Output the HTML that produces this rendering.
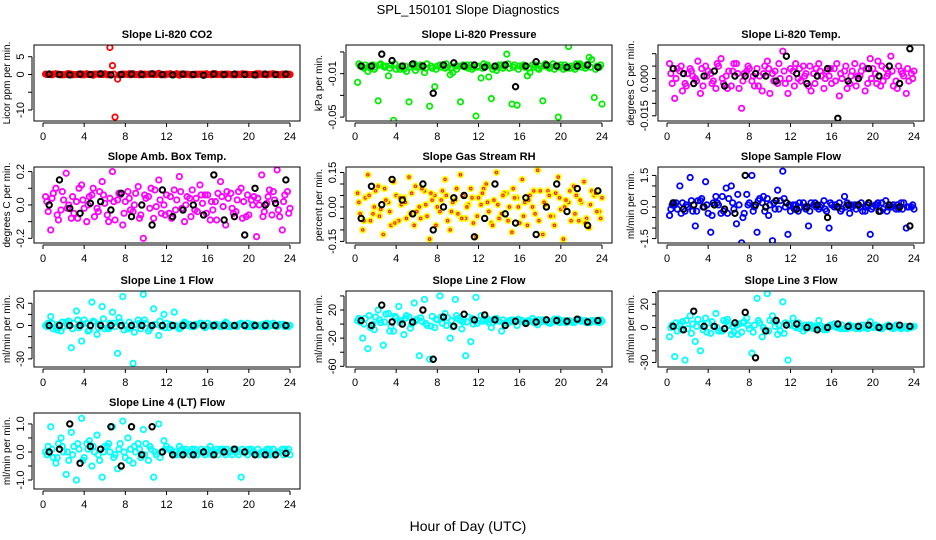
<!DOCTYPE html>
<html><head><meta charset="utf-8"><style>
html,body{margin:0;padding:0;background:#fff;}
svg{display:block;font-family:"Liberation Sans",sans-serif;}
</style></head><body>
<svg id="chart" width="936" height="540" viewBox="0 0 936 540">
<text x="468" y="14" text-anchor="middle" font-size="13">SPL_150101  Slope Diagnostics</text>
<text x="468" y="531" text-anchor="middle" font-size="14">Hour of Day (UTC)</text>
</svg>
<script>
// ---- data ----
const xTicks = [0,4,8,12,16,20,24];
const co2A = [0.1,0,0.2,-0.1,0,0.1,0,-0.1,0.2,0,0.1,0,-0.1,2.5,-1.3,0.1,0,0.2,0,-0.1,0.1,0,0.3,0,0.1,0,-0.2,0.1,0,0,0.1,-0.1,0,0.2,0,0.1,0,-0.1,0,0.1,0,0.2,0,-0.1,0.1,0,0.1,0];
const co2B = [0,0.1,0,-0.1,0.2,0,0.1,-0.1,0,0.1,0,0.2,7.6,-12,0,0.1,-0.1,0,0.2,0,0.1,0,-0.1,0.1,0,0.2,0,0.1,-0.1,0,0.1,0,0.2,0,-0.1,0.1,0,0,0.1,0,-0.1,0.2,0,0.1,0,-0.1,0.1,0];
const co2C = [0,-0.1,0.1,0,0.2,-0.1,0,0.1,0,-0.2,0.1,0,0,0.1,-0.1,0,0.2,0,-0.1,0.1,0,0.1,0,-0.1,0.2,0,0.1,0,-0.1,0.1,0,0.2,-0.1,0,0.1,0,-0.1,0.1,0.2,0,0,-0.1,0.1,0,0.2,0,-0.1,0.1];
const co2K = [0.1,0,-0.1,0.1,0,0.2,-0.1,0,0.1,0,0.2,0,-0.1,0.1,0,-0.2,0.1,0,0.1,0,-0.1,0.1,0,0.1];
const presA = [-0.018,-0.004,-0.008,-0.002,-0.035,-0.003,-0.012,-0.053,-0.004,-0.006,-0.036,-0.001,-0.004,-0.009,-0.04,-0.022,-0.002,-0.005,-0.011,-0.003,-0.036,-0.004,-0.002,-0.049,-0.014,-0.003,-0.033,-0.007,-0.002,0.008,-0.038,-0.039,-0.003,-0.012,-0.002,-0.005,-0.035,-0.003,-0.001,-0.05,-0.006,0.015,-0.004,-0.002,-0.003,0.005,-0.032,-0.004];
const presB = [-0.003,-0.002,-0.005,-0.004,-0.001,-0.003,-0.002,-0.006,-0.003,-0.008,-0.002,-0.004,-0.003,-0.001,-0.005,-0.003,-0.002,-0.004,-0.009,-0.003,-0.002,-0.005,-0.004,-0.003,-0.001,-0.013,-0.004,-0.002,-0.003,-0.005,-0.002,-0.003,-0.004,-0.009,-0.002,-0.003,-0.001,-0.004,-0.003,-0.002,-0.005,-0.003,-0.001,-0.004,-0.002,0.003,-0.003,-0.038];
const presC = [-0.001,-0.005,-0.003,-0.006,-0.002,-0.004,-0.005,-0.001,-0.006,-0.003,-0.004,-0.007,-0.002,-0.005,-0.003,-0.006,-0.004,-0.001,-0.005,-0.006,-0.003,-0.002,-0.006,-0.004,-0.005,-0.002,-0.006,-0.004,-0.005,-0.001,-0.004,-0.006,-0.002,-0.005,-0.004,-0.006,-0.003,-0.005,-0.006,-0.004,-0.002,-0.005,-0.006,-0.001,-0.005,-0.004,-0.006,-0.002];
const presK = [-0.003,-0.003,0.008,0.002,-0.003,-0.001,-0.003,-0.028,-0.002,0.0,-0.003,-0.002,-0.004,-0.003,-0.002,-0.022,-0.003,0.001,-0.002,-0.003,-0.004,-0.003,-0.002,-0.004];
const tempA = [0.006,-0.008,0.003,-0.002,0.004,0.0,-0.006,0.005,0.002,-0.004,0.008,0.001,-0.003,0.006,-0.012,0.003,-0.001,0.004,-0.005,0.007,0.002,-0.002,0.011,-0.006,0.003,0.0,0.005,-0.003,0.002,0.006,-0.004,0.001,0.004,-0.007,0.003,-0.002,0.006,0.001,-0.005,0.008,0.002,-0.003,0.004,0.009,-0.001,0.003,-0.006,0.002];
const tempB = [-0.002,0.004,-0.005,0.002,0.001,0.007,-0.003,0.003,-0.001,0.005,-0.002,0.003,0.006,-0.004,0.002,0.004,-0.003,0.001,0.005,-0.006,0.003,0.0,-0.002,0.004,0.006,-0.001,0.002,-0.005,0.004,0.001,0.003,-0.002,0.006,0.0,-0.004,0.003,0.001,0.005,-0.002,0.004,0.007,-0.001,0.002,-0.003,0.005,0.001,-0.001,0.003];
const tempC = [0.002,0.0,0.005,-0.003,0.003,-0.001,0.004,0.001,-0.002,0.006,0.0,-0.004,0.003,0.002,-0.001,0.005,0.001,-0.003,0.002,0.004,-0.001,0.006,0.003,0.0,-0.003,0.004,0.001,0.005,-0.002,0.003,0.0,0.004,-0.001,0.002,0.005,0.001,-0.003,0.003,0.004,0.0,-0.002,0.005,0.001,0.003,-0.004,0.002,0.004,0.0];
const tempK = [0.004,0.002,-0.002,0.001,0.003,-0.003,0.001,0.001,0.002,0.001,-0.001,0.009,0.002,-0.002,0.001,0.004,-0.016,-0.001,0.0,0.004,0.001,0.005,-0.002,0.012];
const ambA = [0.05,-0.15,0.1,-0.03,0.19,-0.08,0.02,0.12,-0.1,0.06,-0.02,0.14,-0.06,0.2,0.03,-0.12,0.08,-0.04,0.11,-0.2,0.05,-0.08,0.15,0.0,-0.05,0.09,0.17,-0.1,0.04,-0.03,0.12,0.06,-0.09,0.02,0.14,-0.12,0.07,-0.04,0.1,-0.07,0.03,-0.19,0.18,0.01,-0.06,0.21,-0.15,0.08];
const ambB = [-0.04,0.07,-0.09,0.03,0.0,-0.05,0.1,-0.02,0.05,-0.07,0.08,0.01,0.04,-0.09,0.06,0.02,-0.03,0.07,-0.06,0.04,0.1,-0.01,-0.05,0.06,-0.08,0.03,-0.02,0.05,0.09,-0.04,0.01,0.06,-0.03,0.07,-0.01,0.04,-0.05,0.08,0.02,-0.06,0.05,0.0,-0.04,0.09,0.03,-0.07,0.06,-0.02];
const ambC = [0.02,0.04,-0.06,0.08,-0.02,0.05,-0.08,0.03,0.0,0.1,-0.04,0.06,-0.1,0.02,0.07,-0.05,0.04,0.0,-0.08,0.06,-0.02,0.09,0.03,-0.06,0.05,-0.03,0.08,0.0,-0.07,0.04,0.06,-0.05,0.02,-0.09,0.05,0.08,-0.02,0.03,-0.08,0.06,0.0,0.04,-0.07,0.05,0.08,-0.03,0.02,-0.05];
const ambK = [0.0,0.15,-0.02,-0.05,0.01,0.02,-0.03,0.07,-0.07,0.0,-0.12,0.09,-0.07,-0.03,0.0,-0.06,0.18,-0.09,-0.07,-0.18,0.1,0.0,0.01,0.15];
const rhA = [0.06,-0.1,0.14,-0.03,0.09,-0.12,0.02,0.11,-0.06,0.04,0.13,-0.08,0.0,0.07,-0.14,0.05,-0.02,0.12,-0.1,0.03,0.14,-0.05,0.08,-0.13,0.01,0.1,-0.07,0.15,-0.03,0.06,-0.11,0.04,0.12,-0.08,0.0,0.16,-0.12,0.07,-0.04,0.13,-0.14,0.02,0.09,-0.06,0.11,-0.09,0.05,-0.02];
const rhB = [-0.03,0.04,-0.06,0.07,-0.01,0.03,-0.08,0.05,0.01,-0.05,0.06,-0.02,0.08,-0.04,0.03,0.0,0.07,-0.06,0.02,-0.03,0.05,0.01,-0.07,0.04,0.08,-0.02,0.03,-0.05,0.06,0.0,0.04,-0.07,0.02,0.05,-0.03,0.07,0.01,-0.04,0.06,-0.01,0.03,-0.06,0.05,0.02,-0.05,0.07,-0.02,0.04];
const rhC = [0.02,-0.06,0.05,0.0,-0.04,0.08,-0.02,-0.07,0.04,0.02,-0.03,0.09,-0.05,0.01,0.06,-0.08,0.03,0.05,-0.02,0.08,-0.05,0.0,0.04,-0.04,0.06,0.02,-0.08,0.01,0.05,-0.06,0.08,0.0,-0.04,0.03,0.07,-0.06,0.02,0.05,-0.08,0.04,0.0,0.07,-0.03,0.03,-0.07,0.01,0.06,-0.05];
const rhK = [-0.05,0.09,0.01,0.12,0.03,-0.03,0.1,-0.1,0.0,0.04,0.05,-0.13,-0.05,0.1,-0.03,-0.07,0.04,-0.12,0.0,0.1,-0.02,0.08,-0.08,0.07];
const sfA = [-0.4,0.1,1.0,-0.2,1.4,-0.9,0.3,1.2,-1.2,0.5,-0.3,0.9,1.0,-0.8,-1.7,0.6,1.5,-1.2,0.2,0.4,-1.6,0.8,1.7,-1.3,0.1,-0.2,0.2,-0.9,0.1,-0.1,0.3,-1.0,0.0,0.2,0.5,-0.3,0.1,0.0,-0.2,-1.3,0.1,-0.2,0.3,0.0,-0.1,0.2,-1.0,0.0];
const sfB = [0.1,-0.1,0.2,0.0,-0.2,0.3,0.0,-0.3,0.2,0.1,-0.2,0.4,-0.1,0.1,-0.3,0.2,0.0,0.4,-0.2,0.1,-0.1,0.3,0.0,-0.2,0.1,0.0,-0.1,0.2,0.0,0.1,-0.2,0.1,0.0,-0.1,0.2,0.0,0.1,-0.2,0.1,0.0,0.2,-0.1,0.0,0.1,-0.1,0.2,0.0,-0.1];
const sfC = [-0.1,0.2,-0.3,0.1,0.3,-0.2,0.4,0.1,-0.4,0.2,0.5,-0.3,0.2,0.6,-0.5,0.1,-0.2,0.3,0.5,-0.4,0.2,-0.1,0.4,0.1,-0.1,0.2,0.0,-0.2,0.2,0.0,-0.1,0.2,0.1,-0.2,0.0,0.1,-0.1,0.2,0.0,-0.1,0.1,0.2,-0.2,0.0,0.1,-0.1,0.0,0.1];
const sfK = [0.2,-0.1,0.1,0.0,0.1,-0.1,-0.3,1.5,0.1,0.0,0.3,0.2,-0.1,0.0,0.1,-0.5,0.0,0.1,0.1,0.2,-0.2,0.1,0.0,-0.9];
const l1A = [0,8,-2,-5,3,-20,13,-14,2,21,-8,17,-2,12,-25,26,-3,-34,5,28,-5,15,-9,10,-2,12,-3,3,1,-1,2,-2,0,1,-1,3,-1,0,2,-1,1,0,-1,2,0,-1,1,0];
const l1B = [2,-3,1,-1,4,2,-2,5,-4,3,1,-3,2,-1,3,0,-2,1,-3,2,0,1,-1,2,0,-1,1,0,-1,1,0,2,-1,0,1,-1,0,1,0,-1,1,0,-1,1,0,1,-1,0];
const l1C = [-1,2,-4,3,0,-3,5,1,-5,4,-2,6,-3,2,7,-4,3,-6,2,5,-3,1,4,-2,1,0,-2,2,-1,1,2,-1,0,1,-1,2,0,-1,1,2,-1,0,1,-1,2,0,1,-1];
const l1K = [0,0,0,0,0,0,0,0,0,0,0,0,0,0,0,0,0,0,0,0,0,0,0,0];
const l2A = [5,-20,-35,0,20,-30,15,-10,25,-15,10,30,-45,35,-50,-5,40,15,-20,35,5,-45,-25,38,12,5,-5,8,-10,3,6,-2,5,3,8,-1,6,2,4,7,3,5,2,6,4,3,5,2];
const l2B = [3,8,-5,10,2,14,-3,9,5,12,0,7,4,-2,11,6,1,9,-4,8,3,10,0,5,6,2,7,4,1,5,3,6,2,4,5,3,6,1,4,5,2,3,6,4,2,5,3,4];
const l2C = [8,0,12,-8,6,3,-10,11,2,8,-6,4,9,1,-3,7,10,-2,5,12,-7,3,8,1,4,7,2,5,6,1,4,7,3,5,2,6,4,3,7,2,5,4,3,6,5,2,4,6];
const l2K = [5,-2,27,3,0,3,20,-50,10,-3,14,6,13,6,-2,4,1,3,6,5,4,7,3,5];
const l3A = [-8,-25,3,-28,10,-12,-20,8,-5,12,-3,5,-6,2,-4,8,-22,25,-8,29,10,-6,22,-28,8,4,-3,2,-1,6,-2,1,3,0,-1,2,1,-1,0,5,2,-1,1,0,2,-1,1,0];
const l3B = [2,-3,5,-1,3,7,-2,4,1,-3,6,2,-4,3,5,-1,2,4,-2,6,1,-3,4,2,0,1,-1,2,0,1,-2,1,0,2,-1,0,1,2,-1,0,1,0,2,-1,0,1,0,1];
const l3C = [0,4,-2,6,-5,1,3,-4,5,0,-3,7,1,-6,4,2,-4,6,0,-3,5,2,-5,3,1,-1,2,0,1,-1,0,2,1,-1,0,1,-1,0,2,1,0,-1,1,0,1,0,-1,1];
const l3K = [1,-2,14,1,1,-1,4,13,-26,-3,6,2,3,0,-2,0,3,1,1,2,0,1,2,1];
const l4A = [0.0,0.9,-0.4,0.5,-0.8,0.7,-1.0,1.2,0.3,-0.5,0.6,-0.9,0.2,0.9,-0.6,1.1,0.5,-0.4,0.3,0.8,-0.3,-0.9,1.0,0.4,0.1,-0.1,0.2,0.0,-0.1,0.1,0.0,-0.1,0.2,0.0,0.1,-0.1,0.0,0.1,-0.9,0.0,0.1,-0.1,0.0,0.1,-0.1,0.0,0.1,0.0];
const l4B = [0.2,-0.2,0.3,0.0,-0.3,0.2,0.1,-0.2,0.4,0.0,-0.3,0.2,0.0,-0.1,0.3,-0.2,0.1,0.0,-0.2,0.3,0.1,-0.1,0.0,0.2,0.0,-0.1,0.1,0.0,0.1,-0.1,0.0,0.1,0.0,-0.1,0.1,0.0,0.1,-0.1,0.0,0.1,0.0,-0.1,0.0,0.1,-0.1,0.0,0.1,-0.1];
const l4C = [-0.1,0.1,-0.2,0.2,0.0,-0.1,0.3,-0.3,0.1,0.2,-0.1,0.0,0.3,-0.2,0.1,0.0,-0.3,0.2,0.1,-0.1,0.2,0.0,-0.2,0.1,0.1,0.0,-0.1,0.1,0.0,-0.1,0.1,0.0,-0.1,0.1,0.0,0.1,-0.1,0.0,0.1,-0.1,0.0,0.1,0.0,-0.1,0.1,0.0,-0.1,0.1];
const l4K = [0.0,0.1,1.0,-0.4,0.2,0.1,0.9,-0.5,0.9,-0.1,0.9,0.0,-0.1,-0.1,-0.1,0.0,-0.1,0.0,0.1,0.0,-0.1,-0.1,-0.1,-0.05];

// ---- layout ----
const NS="http://www.w3.org/2000/svg";
const svg=document.getElementById('chart');
function mk(tag,attrs,parent){const e=document.createElementNS(NS,tag);for(const k in attrs)e.setAttribute(k,attrs[k]);(parent||svg).appendChild(e);return e;}
const panels=[
 {name:'co2',title:'Slope Li-820 CO2',ylab:'Licor ppm per min.',col:0,row:0,ymax:8.3,ymin:-13.1,ticks:[-10,-5,0,5],labels:['-10','','0','5'],A:co2A,B:co2B,C:co2C,K:co2K,color:'#ff0000'},
 {name:'pressure',title:'Slope Li-820 Pressure',ylab:'kPa per min.',col:1,row:0,ymax:0.0164,ymin:-0.0536,ticks:[0.01,-0.01,-0.03,-0.05],labels:['','-0.01','','-0.05'],A:presA,B:presB,C:presC,K:presK,color:'#00ee00'},
 {name:'li820-temp',title:'Slope Li-820 Temp.',ylab:'degrees C per min.',col:2,row:0,ymax:0.0135,ymin:-0.0171,ticks:[0.01,0.005,0,-0.005,-0.01,-0.015],labels:['','','0.000','','','-0.015'],A:tempA,B:tempB,C:tempC,K:tempK,color:'#ff00ff'},
 {name:'amb-box-temp',title:'Slope Amb. Box Temp.',ylab:'degrees C per min.',col:0,row:1,ymax:0.2275,ymin:-0.228,ticks:[-0.2,-0.1,0,0.1,0.2],labels:['-0.2','','0.0','','0.2'],A:ambA,B:ambB,C:ambC,K:ambK,color:'#ff00ff'},
 {name:'gas-stream-rh',title:'Slope Gas Stream RH',ylab:'percent per min.',col:1,row:1,ymax:0.174,ymin:-0.157,ticks:[-0.15,-0.1,-0.05,0,0.05,0.1,0.15],labels:['-0.15','','','0.00','','','0.15'],A:rhA,B:rhB,C:rhC,K:rhK,color:'#ffff00',inner:'#ff2000'},
 {name:'sample-flow',title:'Slope Sample Flow',ylab:'ml/min per min.',col:2,row:1,ymax:1.9,ymin:-1.71,ticks:[-1.5,-1,-0.5,0,0.5,1,1.5],labels:['-1.5','','','0.0','','','1.5'],A:sfA,B:sfB,C:sfC,K:sfK,color:'#0000ff'},
 {name:'line1-flow',title:'Slope Line 1 Flow',ylab:'ml/min per min.',col:0,row:2,ymax:31,ymin:-37.3,ticks:[-30,-20,-10,0,10,20],labels:['-30','','','0','','20'],A:l1A,B:l1B,C:l1C,K:l1K,color:'#00ffff'},
 {name:'line2-flow',title:'Slope Line 2 Flow',ylab:'ml/min per min.',col:1,row:2,ymax:47,ymin:-61,ticks:[-60,-40,-20,0,20,40],labels:['-60','','-20','','20',''],A:l2A,B:l2B,C:l2C,K:l2K,color:'#00ffff'},
 {name:'line3-flow',title:'Slope Line 3 Flow',ylab:'ml/min per min.',col:2,row:2,ymax:31.3,ymin:-33.9,ticks:[-30,-20,-10,0,10,20,30],labels:['-30','','','0','','20',''],A:l3A,B:l3B,C:l3C,K:l3K,color:'#00ffff'},
 {name:'line4-flow',title:'Slope Line 4 (LT) Flow',ylab:'ml/min per min.',col:0,row:3,ymax:1.39,ymin:-1.32,ticks:[-1,-0.5,0,0.5,1],labels:['-1.0','','0.0','','1.0'],A:l4A,B:l4B,C:l4C,K:l4K,color:'#00ffff'}
];
const colL=[34,346,658], rowT=[45,167,291,413], W=266, H=76;
panels.forEach(p=>{
  const L=colL[p.col], T=rowT[p.row], B=T+H;
  const g=mk('g',{});
  
  
  const xs=h=>L+9+h*(247/24);
  const ys=v=>T+(p.ymax-v)/(p.ymax-p.ymin)*H;
  const t=mk('text',{x:L+W/2,y:T-7,'text-anchor':'middle','font-size':'11','font-weight':'bold'},g);
  t.textContent=p.title;
  
  
  const yl=mk('text',{x:0,y:0,'text-anchor':'middle','font-size':'10',transform:`translate(${L-24},${T+H/2}) rotate(-90)`},g);
  yl.textContent=p.ylab;
  
  
  mk('line',{x1:xs(0),x2:xs(24),y1:B+2,y2:B+2,stroke:'#000','stroke-width':1},g);
  xTicks.forEach(v=>{
    mk('line',{x1:xs(v),x2:xs(v),y1:B+2,y2:B+6,stroke:'#000'},g);
    const tl=mk('text',{x:xs(v),y:B+19,'text-anchor':'middle','font-size':'11'},g);
    tl.textContent=v;
    
    
  });
  const yt=p.ticks.map(ys);
  mk('line',{x1:L-2,x2:L-2,y1:Math.min(...yt),y2:Math.max(...yt),stroke:'#000'},g);
  p.ticks.forEach((v,i)=>{
    const y=ys(v);
    mk('line',{x1:L-6,x2:L-2,y1:y,y2:y,stroke:'#000'},g);
    if(p.labels[i]){
      const tl=mk('text',{x:0,y:0,'text-anchor':'middle','font-size':'11',transform:`translate(${L-10},${y}) rotate(-90)`},g);
      tl.textContent=p.labels[i];
      
      
    }
  });
  const clip=mk('clipPath',{id:'c'+p.name},g);
  mk('rect',{x:L,y:T,width:W,height:H},clip);
  const pts=mk('g',{'clip-path':`url(#c${p.name})`},g);
  const draw=(arr,off,step,color,sw,inner,label)=>{
    arr.forEach((v,i)=>{
      const cx=xs(off+i*step), cy=ys(v);
      const c=mk('circle',{cx:cx,cy:cy,r:2.7,fill:'none',stroke:color,'stroke-width':sw},pts);
      
      
      if(inner){const d=mk('circle',{cx:cx,cy:cy,r:1.2,fill:'none',stroke:inner,'stroke-width':1.2},pts);
        
        }
    });
  };
  draw(p.A,0.25,0.5,p.color,1.8,p.inner,p.name+'-point');
  draw(p.B,0.5,0.5,p.color,1.8,p.inner,p.name+'-point');
  draw(p.C,0.375,0.5,p.color,1.8,p.inner,p.name+'-point');
  draw(p.K,0.6,1,'#000',2,null,p.name+'-black-point');
  const fr=mk('rect',{x:L,y:T,width:W,height:H,fill:'none',stroke:'#000','stroke-width':1},g);
  
  
});
</script>
</body></html>
